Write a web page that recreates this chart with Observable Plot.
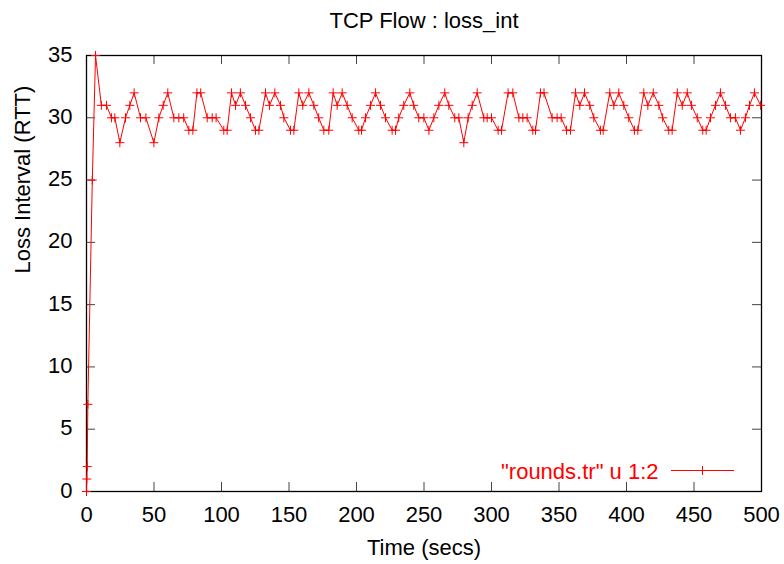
<!DOCTYPE html>
<html>
<head>
<meta charset="utf-8">
<script src="https://cdn.jsdelivr.net/npm/d3@7"></script>
<script src="https://cdn.jsdelivr.net/npm/@observablehq/plot@0.6"></script>
<style>
  html, body { margin: 0; padding: 0; background: #fff; }
  svg { display: block; }
</style>
</head>
<body>
<div id="chart"></div>
<script>
const titleText = "TCP Flow : loss_int";
const xLabel = "Time (secs)";
const yLabel = "Loss Interval (RTT)";
const seriesLabel = "\"rounds.tr\" u 1:2";
const xTicks = [0, 50, 100, 150, 200, 250, 300, 350, 400, 450, 500];
const yTicks = [0, 5, 10, 15, 20, 25, 30, 35];

const times = [
  0, 0.2, 0.5, 1, 4.3, 6.7, 11, 14.8, 18.5, 21, 24.7, 28.9, 32.1, 35.3, 40, 44, 49.9, 53.6, 56.8, 60.2,
  64.7, 68.4, 72, 75.8, 78.8, 81.8, 84.6, 89.4, 93.1, 96, 101.7, 104.2, 107.4, 110.4, 114, 117.8, 121.5, 125.2, 127.7,
  132.6, 135.6, 139.5, 143.7, 146.2, 151.1, 153.6, 157.3, 160.2, 164.7, 168.4, 172, 175.8, 179.5, 182.7, 185.7,
  189.4, 193.1, 196.8, 201.7, 203.7, 206.7, 210.4, 214.1, 217.8, 221.5, 226.4, 228.9, 231.3, 235, 239.5, 242.4,
  246.1, 249.9, 253.6, 257.3, 261, 265.4, 268.4, 272.8, 275.8, 279.5, 282.7, 285.7, 289.4, 294.3, 296.8, 300,
  304.9, 307.4, 312.3, 315.8, 320.3, 323.2, 326.4, 330.6, 332.6, 336.3, 338.9, 344.9, 348.6, 351.6, 355.6, 358.5,
  362.2, 365.4, 368.9, 372.8, 375.8, 380.7, 382.7, 387.6, 390.6, 394.3, 398, 401.7, 405.9, 408.4, 412.8, 415.8,
  419.8, 424, 426.8, 431.3, 433.8, 437.6, 441.3, 445, 448.1, 452.4, 456.5, 459, 462.2, 465.9, 469.6, 473.3, 477,
  480.7, 484.4, 488.1, 491.1, 494.8, 499.3
];
const values = [
  0, 1, 2, 7, 25, 35, 31, 31, 30, 30, 28, 30, 31, 32, 30, 30, 28, 30, 31, 32,
  30, 30, 30, 29, 29, 32, 32, 30, 30, 30, 29, 29, 32, 31, 32, 31, 30, 29, 29,
  32, 31, 32, 31, 30, 29, 29, 32, 31, 32, 31, 30, 29, 29, 32, 31,
  32, 31, 30, 29, 29, 30, 31, 32, 31, 30, 29, 29, 30, 31, 32, 31,
  30, 30, 29, 30, 31, 32, 31, 30, 30, 28, 30, 31, 32, 30, 30, 30,
  29, 29, 32, 32, 30, 30, 30, 29, 29, 32, 32, 30, 30, 30, 29, 29,
  32, 31, 32, 31, 30, 29, 29, 32, 31, 32, 31, 30, 29, 29, 32, 31,
  32, 31, 30, 29, 29, 32, 31, 32, 31, 30, 29, 29, 30, 31, 32, 31, 30,
  30, 29, 30, 31, 32, 31
];

const data = times.map((t, i) => ({t, v: values[i]}));

const W = 784, H = 564;
const mL = 86, mR = 23, mT = 55, mB = 73;
const frameW = W - mL - mR, frameH = H - mT - mB;
const tickLen = 9;
const font = "'Liberation Sans', Arial, Helvetica, sans-serif";
const fs = 22;

const cross = {
  draw(ctx, size) {
    const r = Math.sqrt(size / Math.PI);
    ctx.moveTo(-r, 0); ctx.lineTo(r, 0);
    ctx.moveTo(0, -r); ctx.lineTo(0, r);
  }
};

const chart = Plot.plot({
  width: W,
  height: H,
  marginLeft: mL,
  marginRight: mR,
  marginTop: mT,
  marginBottom: mB,
  style: {fontFamily: font, fontSize: fs + "px", color: "#000", background: "#fff"},
  x: {domain: [0, 500]},
  y: {domain: [0, 35]},
  marks: [
    Plot.ruleX(xTicks, {x: d => d, insetTop: frameH - tickLen, stroke: "#444"}),
    Plot.ruleX(xTicks, {x: d => d, insetBottom: frameH - tickLen, stroke: "#444"}),
    Plot.ruleY(yTicks, {y: d => d, insetRight: frameW - tickLen, stroke: "#444"}),
    Plot.ruleY(yTicks, {y: d => d, insetLeft: frameW - tickLen, stroke: "#444"}),
    Plot.frame({stroke: "#000", strokeWidth: 1.3}),
    Plot.axisX({ticks: xTicks, tickSize: 0, tickPadding: 15, label: null, fontSize: fs, fontFamily: font}),
    Plot.axisY({ticks: yTicks, tickSize: 0, tickPadding: 14, label: null, fontSize: fs, fontFamily: font, dy: -1}),
    Plot.line(data, {x: "t", y: "v", stroke: "#ff0000", strokeWidth: 1}),
    Plot.dot(data, {x: "t", y: "v", symbol: cross, r: 4.5, stroke: "#ff0000", fill: "none", strokeWidth: 1}),
    Plot.text([titleText], {frameAnchor: "top", lineAnchor: "middle", dy: -35, fontSize: fs, fontFamily: font, fill: "#000"}),
    Plot.text([xLabel], {frameAnchor: "bottom", lineAnchor: "middle", dy: 56, fontSize: fs, fontFamily: font, fill: "#000"}),
    Plot.text([yLabel], {frameAnchor: "left", lineAnchor: "middle", dx: -64, rotate: -90, fontSize: fs, fontFamily: font, fill: "#000"}),
    Plot.text([seriesLabel], {frameAnchor: "bottom-right", lineAnchor: "middle", textAnchor: "end", dx: -103, dy: -20, fontSize: fs, fontFamily: font, fill: "#ff0000"})
  ]
});

// legend sample line with marker
const svg = d3.select(chart);
const ly = H - mB - 20.5;
const lx1 = W - mR - 90, lx2 = W - mR - 27;
const lg = svg.append("g").attr("stroke", "#ff0000").attr("stroke-width", 1).attr("fill", "none");
lg.append("line").attr("x1", lx1).attr("x2", lx2).attr("y1", ly).attr("y2", ly);
const cx = (lx1 + lx2) / 2;
lg.append("line").attr("x1", cx).attr("x2", cx).attr("y1", ly - 4.5).attr("y2", ly + 4.5);

document.getElementById("chart").appendChild(chart);
</script>
</body>
</html>
